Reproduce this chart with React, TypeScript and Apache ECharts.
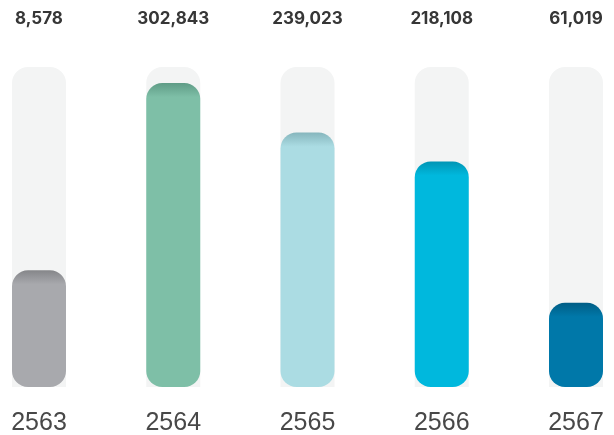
import React, { useEffect, useRef } from "react";
import * as echarts from "echarts";

const years = ["2563", "2564", "2565", "2566", "2567"];
const totals = [8578, 302843, 239023, 218108, 61019];
// fill level of each bar (percent of the track), as drawn in the picture
const fillPercent = [36.5, 95, 79.5, 70.5, 26.3];
const trackValue = [100, 100, 100, 100, 100];
const baseColors = ["#a8a9ad", "#7ebfa7", "#abdce3", "#00b8dd", "#0078a9"];
const topColors = ["#858689", "#5f9c86", "#86b6bd", "#0095b4", "#005d85"];

export default function App() {
  const ref = useRef<HTMLDivElement>(null);
  useEffect(() => {
    if (!ref.current) return;
    const chart = echarts.init(ref.current, undefined, { renderer: "svg" });
    const trackTop = 67;
    const trackH = 320;
    chart.setOption({
      animation: false,
      grid: [
        { left: 39, right: 38, top: trackTop, height: trackH },
        { left: 39, right: 38, top: 30, height: 1 },
      ],
      xAxis: [
        {
          type: "category",
          gridIndex: 0,
          data: years,
          boundaryGap: false,
          axisLine: { show: false },
          axisTick: { show: false },
          axisLabel: {
            margin: 21,
            fontSize: 25,
            color: "#484848",
            fontFamily: "Liberation Sans, Arial, sans-serif",
          },
        },
        {
          type: "category",
          gridIndex: 1,
          position: "top",
          data: totals.map((v) => v.toLocaleString("en-US")),
          boundaryGap: false,
          axisLine: { show: false },
          axisTick: { show: false },
          axisLabel: {
            margin: 4,
            fontSize: 17,
            fontWeight: 700,
            color: "#363636",
            fontFamily: "Inter, Roboto, sans-serif",
          },
        },
      ],
      yAxis: [
        { type: "value", gridIndex: 0, min: 0, max: 100, show: false },
        { type: "value", gridIndex: 1, show: false },
      ],
      series: [
        {
          type: "bar",
          xAxisIndex: 0,
          yAxisIndex: 0,
          clip: false,
          barWidth: 54,
          barGap: "-100%",
          silent: true,
          data: trackValue,
          itemStyle: { color: "#f3f4f4", borderRadius: [16, 16, 0, 0] },
        },
        {
          type: "bar",
          xAxisIndex: 0,
          yAxisIndex: 0,
          clip: false,
          barWidth: 54,
          barGap: "-100%",
          data: fillPercent.map((p, i) => {
            const h = (p / 100) * trackH;
            const stop = Math.min(0.3, 14 / h);
            return {
              value: p,
              itemStyle: {
                borderRadius: 16,
                color: {
                  type: "linear",
                  x: 0,
                  y: 0,
                  x2: 0,
                  y2: 1,
                  colorStops: [
                    { offset: 0, color: topColors[i] },
                    { offset: stop, color: baseColors[i] },
                    { offset: 1, color: baseColors[i] },
                  ],
                },
              },
            };
          }),
        },
      ],
    });
    return () => chart.dispose();
  }, []);
  return (
    <div
      ref={ref}
      style={{ position: "fixed", left: 0, top: 0, width: 614, height: 435 }}
    />
  );
}
